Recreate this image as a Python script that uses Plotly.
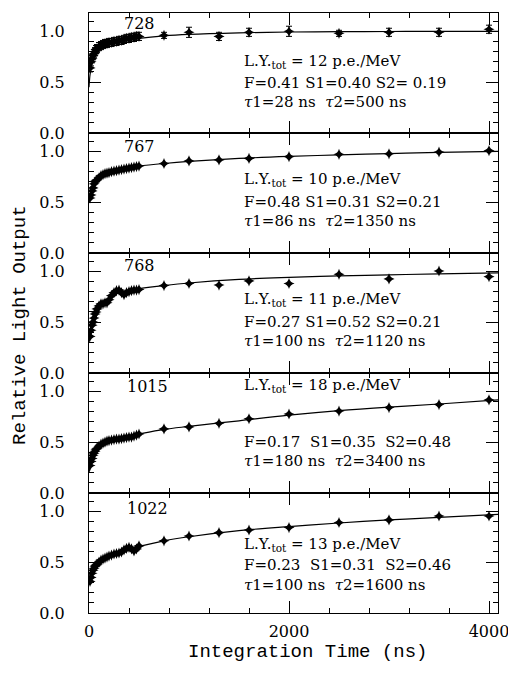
import plotly.graph_objects as go
from plotly.subplots import make_subplots

# ---------------- data ----------------
time_dense = [10, 20, 30, 40, 50, 60, 70, 80, 100, 120, 140, 160, 180, 200,
              225, 250, 275, 300, 325, 350, 375, 400, 425, 450, 475, 500]
time_tail = [750, 1000, 1300, 1600, 2000, 2500, 3000, 3500, 4000]

ly_728_dense = [0.64, 0.70, 0.73, 0.76, 0.78, 0.80, 0.82, 0.83, 0.85, 0.86, 0.87, 0.88, 0.88,
                0.89, 0.89, 0.90, 0.90, 0.91, 0.91, 0.92, 0.93, 0.93, 0.94, 0.94, 0.95, 0.95]
ly_728_tail = [0.96, 0.99, 0.95, 0.99, 1.00, 0.98, 0.99, 0.99, 1.02]
err_728_dense = [0.04] * 26
err_728_tail = [0.03, 0.05, 0.04, 0.04, 0.05, 0.03, 0.04, 0.04, 0.04]

ly_767_dense = [0.54, 0.57, 0.61, 0.64, 0.68, 0.70, 0.71, 0.72, 0.74, 0.76, 0.77, 0.78, 0.785,
                0.79, 0.80, 0.805, 0.81, 0.815, 0.82, 0.825, 0.83, 0.835, 0.84, 0.845, 0.85, 0.855]
ly_767_tail = [0.88, 0.905, 0.915, 0.93, 0.947, 0.97, 0.975, 0.993, 1.006]

ly_768_dense = [0.36, 0.42, 0.47, 0.50, 0.54, 0.58, 0.60, 0.63, 0.66, 0.68, 0.68, 0.69, 0.69,
                0.72, 0.76, 0.79, 0.81, 0.815, 0.79, 0.77, 0.79, 0.80, 0.81, 0.815, 0.815, 0.82]
ly_768_tail = [0.86, 0.88, 0.865, 0.905, 0.88, 0.97, 0.925, 1.003, 0.947]

ly_1015_dense = [0.27, 0.31, 0.34, 0.37, 0.39, 0.41, 0.43, 0.44, 0.46, 0.48, 0.49, 0.50, 0.51,
                 0.515, 0.52, 0.525, 0.53, 0.53, 0.535, 0.54, 0.545, 0.55, 0.55, 0.56, 0.57, 0.58]
ly_1015_tail = [0.63, 0.65, 0.685, 0.73, 0.777, 0.806, 0.84, 0.87, 0.915]

ly_1022_dense = [0.31, 0.35, 0.39, 0.42, 0.44, 0.46, 0.47, 0.48, 0.50, 0.52, 0.53, 0.54, 0.55,
                 0.56, 0.57, 0.58, 0.585, 0.59, 0.60, 0.62, 0.635, 0.645, 0.63, 0.61, 0.63, 0.66]
ly_1022_tail = [0.71, 0.757, 0.79, 0.816, 0.84, 0.89, 0.915, 0.954, 0.954]

# fitted curves
curve_t = [0, 10, 25, 50, 75, 100, 150, 200, 300, 400, 500, 750, 1000, 1500, 2000, 2500, 3000, 3500, 4090]
fit_728 = [0.45, 0.57, 0.655, 0.76, 0.80, 0.83, 0.86, 0.875, 0.90, 0.915, 0.93, 0.955, 0.97, 0.985, 0.993, 0.996, 0.998, 0.999, 1.0]
fit_767 = [0.50, 0.53, 0.58, 0.64, 0.69, 0.72, 0.765, 0.79, 0.82, 0.84, 0.855, 0.88, 0.90, 0.93, 0.95, 0.965, 0.978, 0.99, 1.0]
fit_768 = [0.30, 0.35, 0.41, 0.49, 0.56, 0.62, 0.69, 0.74, 0.79, 0.815, 0.83, 0.86, 0.885, 0.92, 0.94, 0.955, 0.965, 0.975, 0.985]
fit_1015 = [0.20, 0.25, 0.30, 0.36, 0.40, 0.44, 0.48, 0.51, 0.54, 0.56, 0.58, 0.625, 0.655, 0.71, 0.765, 0.81, 0.845, 0.875, 0.915]
fit_1022 = [0.28, 0.32, 0.37, 0.43, 0.47, 0.50, 0.535, 0.56, 0.60, 0.63, 0.655, 0.71, 0.75, 0.81, 0.85, 0.885, 0.915, 0.94, 0.97]

sample_names = ["728", "767", "768", "1015", "1022"]
ly_tot = ["12", "10", "11", "18", "13"]
fit_params = ["F=0.41 S1=0.40 S2= 0.19",
              "F=0.48 S1=0.31 S2=0.21",
              "F=0.27 S1=0.52 S2=0.21",
              "F=0.17\u00a0\u00a0S1=0.35\u00a0\u00a0S2=0.48",
              "F=0.23\u00a0\u00a0S1=0.31\u00a0\u00a0S2=0.46"]
tau_text = ["<i>\u03c4</i>1=28 ns\u00a0\u00a0<i>\u03c4</i>2=500 ns",
            "<i>\u03c4</i>1=86 ns\u00a0\u00a0<i>\u03c4</i>2=1350 ns",
            "<i>\u03c4</i>1=100 ns\u00a0\u00a0<i>\u03c4</i>2=1120 ns",
            "<i>\u03c4</i>1=180 ns\u00a0\u00a0<i>\u03c4</i>2=3400 ns",
            "<i>\u03c4</i>1=100 ns\u00a0\u00a0<i>\u03c4</i>2=1600 ns"]
# text positions (data units of each panel)
label_y = [1.08, 1.05, 1.06, 1.05, 1.03]
ly_text_y = [0.70, 0.72, 0.72, 1.06, 0.67]
par_text_y = [0.49, 0.50, 0.50, 0.50, 0.47]
tau_text_y = [0.30, 0.31, 0.31, 0.31, 0.28]

dense_sets = [ly_728_dense, ly_767_dense, ly_768_dense, ly_1015_dense, ly_1022_dense]
tail_sets = [ly_728_tail, ly_767_tail, ly_768_tail, ly_1015_tail, ly_1022_tail]
fits = [fit_728, fit_767, fit_768, fit_1015, fit_1022]

# ---------------- figure ----------------
fig = make_subplots(rows=5, cols=1, shared_xaxes=True, vertical_spacing=0)

FONT = "DejaVu Serif"
for i in range(5):
    row = i + 1
    fig.add_trace(go.Scatter(x=curve_t, y=fits[i], mode="lines", line=dict(color="black", width=1.2, shape="spline"),
                             showlegend=False, hoverinfo="skip"), row=row, col=1)
    xs = time_dense + time_tail
    ys = dense_sets[i] + tail_sets[i]
    err = None
    if i == 0:
        err = dict(type="data", array=err_728_dense + err_728_tail, color="black", thickness=1, width=3)
    fig.add_trace(go.Scatter(x=xs, y=ys, mode="markers",
                             marker=dict(symbol="star-diamond", size=8, color="black"),
                             error_y=err, showlegend=False), row=row, col=1)

    xref = "x" if i == 0 else f"x{row}"
    yref = "y" if i == 0 else f"y{row}"
    common = dict(xref=xref, yref=yref, showarrow=False, xanchor="left", yanchor="middle",
                  font=dict(family=FONT, size=15, color="black"))
    fig.add_annotation(x=330 if i < 3 else 360, y=label_y[i], text=sample_names[i],
                       xref=xref, yref=yref, showarrow=False, xanchor="left", yanchor="middle",
                       font=dict(family=FONT, size=16, color="black"))
    fig.add_annotation(x=1530, y=ly_text_y[i], text=f"L.Y.<sub>tot</sub> = {ly_tot[i]} p.e./MeV", **common)
    fig.add_annotation(x=1530, y=par_text_y[i], text=fit_params[i], **common)
    fig.add_annotation(x=1530, y=tau_text_y[i], text=tau_text[i], **common)

    fig.update_yaxes(row=row, col=1, range=[0, 1.18], tick0=0, dtick=0.5, tickformat=".1f",
                     ticks="inside", ticklen=12, tickcolor="black", mirror="allticks",
                     showline=True, linecolor="black", linewidth=1, showgrid=False, zeroline=False,
                     minor=dict(dtick=0.1, tick0=0, ticks="inside", ticklen=5, tickcolor="black", showgrid=False),
                     tickfont=dict(family=FONT, size=16, color="black"), ticklabelstandoff=20,
                     automargin=False)
    fig.update_xaxes(row=row, col=1, range=[0, 4090], tick0=0, dtick=2000,
                     ticks="inside", ticklen=12, tickcolor="black", mirror="allticks",
                     showline=True, linecolor="black", linewidth=1, showgrid=False, zeroline=False,
                     minor=dict(dtick=400, tick0=0, ticks="inside", ticklen=5, tickcolor="black", showgrid=False),
                     tickfont=dict(family=FONT, size=16, color="black"),
                     showticklabels=(row == 5), ticklabelstandoff=4, ticklabeloverflow="allow",
                     automargin=False)

fig.add_annotation(xref="paper", yref="paper", x=0.535, y=-0.0645, text="Integration Time (ns)",
                   showarrow=False, xanchor="center", yanchor="middle",
                   font=dict(family="Liberation Mono", size=19, color="black"))
fig.add_annotation(xref="paper", yref="paper", x=-0.169, y=0.48, text="Relative Light Output",
                   textangle=-90, showarrow=False, xanchor="center", yanchor="middle",
                   font=dict(family="Liberation Mono", size=19, color="black"))

fig.update_layout(width=508, height=674, margin=dict(l=89, r=10, t=13, b=61),
                  paper_bgcolor="white", plot_bgcolor="white")

fig.write_html("out.html")
